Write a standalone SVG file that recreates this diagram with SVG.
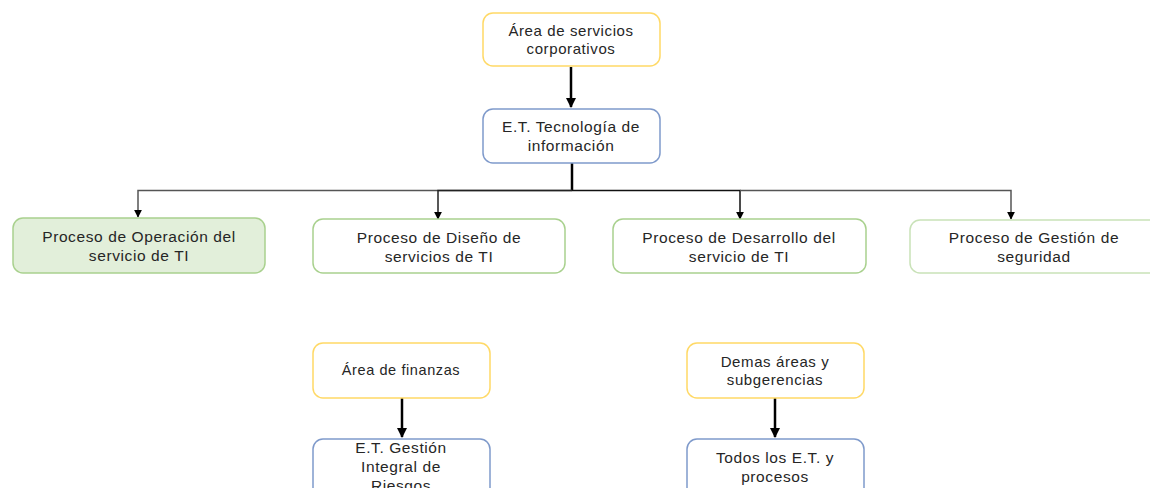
<svg xmlns="http://www.w3.org/2000/svg" width="1150" height="488" viewBox="0 0 1150 488">
<defs>
<marker id="arrs" viewBox="0 0 10 10" refX="9" refY="5" markerWidth="8" markerHeight="8" orient="auto" markerUnits="userSpaceOnUse">
<path d="M0,0 L10,5 L0,10 z" fill="#000"/>
</marker>
<marker id="arrb" viewBox="0 0 10 10" refX="9" refY="5" markerWidth="10" markerHeight="10" orient="auto" markerUnits="userSpaceOnUse">
<path d="M0,0 L10,5 L0,10 z" fill="#000"/>
</marker>
</defs>
<style>
.box{fill:#fff;stroke-width:1.5}
.y{stroke:#FFD966}
.b{stroke:#7F9ACB}
.g{stroke:#A9D18E}
.gl{stroke:#C9E2B8}
.gf{fill:#E2EFDA}
text{font-family:"Liberation Sans",Arial,sans-serif;font-size:15.5px;letter-spacing:0.6px;fill:#262626;text-anchor:middle}
.s{font-size:15px}
.c{fill:none}
</style>
<rect width="1150" height="488" fill="#fff"/>
<g id="connectors">
<path class="c" d="M571,67 V107" stroke="#000" stroke-width="2.5" marker-end="url(#arrb)"/>
<path class="c" d="M572,163 V190.5" stroke="#000" stroke-width="2.5"/>
<path class="c" d="M572,190.5 H138 V217" stroke="#555" stroke-width="1.5" marker-end="url(#arrs)"/>
<path class="c" d="M572,190.5 H438 V219" stroke="#222" stroke-width="1.5" marker-end="url(#arrs)"/>
<path class="c" d="M572,190.5 H740 V219" stroke="#111" stroke-width="1.5" marker-end="url(#arrs)"/>
<path class="c" d="M740,190.5 H1011 V219" stroke="#555" stroke-width="1.5" marker-end="url(#arrs)"/>
<path class="c" d="M402,398 V437" stroke="#000" stroke-width="2.5" marker-end="url(#arrb)"/>
<path class="c" d="M775,398 V437" stroke="#000" stroke-width="2.5" marker-end="url(#arrb)"/>
</g>
<g id="n1"><rect class="box y" x="483" y="13" width="177" height="53" rx="10"/>
<text class="s" x="571" y="36">Área de servicios</text><text class="s" x="571" y="54">corporativos</text></g>
<g id="n2"><rect class="box b" x="483" y="109" width="177" height="54" rx="10"/>
<text x="571" y="132">E.T. Tecnología de</text><text x="571" y="151">información</text></g>
<g id="n3"><rect class="box g gf" x="13" y="218" width="252" height="55" rx="10"/>
<text x="139" y="242">Proceso de Operación del</text><text x="139" y="261">servicio de TI</text></g>
<g id="n4"><rect class="box g" x="313" y="219" width="252" height="54" rx="10"/>
<text x="439" y="243">Proceso de Diseño de</text><text x="439" y="262">servicios de TI</text></g>
<g id="n5"><rect class="box g" x="613" y="219" width="253" height="54" rx="10"/>
<text x="739" y="243">Proceso de Desarrollo del</text><text x="739" y="262">servicio de TI</text></g>
<g id="n6"><rect class="box gl" x="910" y="220" width="252" height="53" rx="10"/>
<text x="1034" y="243">Proceso de Gestión de</text><text x="1034" y="262">seguridad</text></g>
<g id="n7"><rect class="box y" x="313" y="343" width="177" height="55" rx="10"/>
<text x="401" y="375" style="font-size:14.5px">Área de finanzas</text></g>
<g id="n8"><rect class="box b" x="313" y="439" width="177" height="60" rx="10"/>
<text x="401" y="453">E.T. Gestión</text><text x="401" y="472">Integral de</text><text x="401" y="491">Riesgos</text></g>
<g id="n9"><rect class="box y" x="687" y="343" width="177" height="55" rx="10"/>
<text class="s" x="775" y="367">Demas áreas y</text><text class="s" x="775" y="385">subgerencias</text></g>
<g id="n10"><rect class="box b" x="687" y="439" width="177" height="60" rx="10"/>
<text x="775" y="463">Todos los E.T. y</text><text x="775" y="482">procesos</text></g>
</svg>
